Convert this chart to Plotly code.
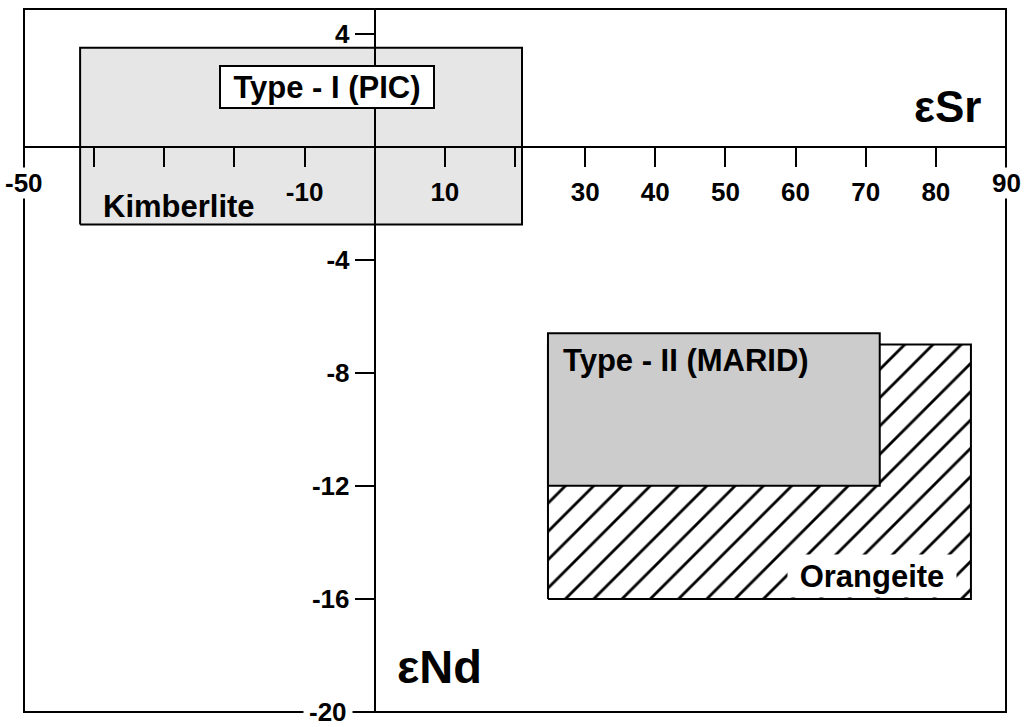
import plotly.graph_objects as go

# ---- data ----
x_range = [-50, 90]
y_range = [-20, 4.87]

x_tick_vals = [-40, -30, -20, -10, 10, 20, 30, 40, 50, 60, 70, 80]
x_tick_text = ["", "", "", "-10", "10", "", "30", "40", "50", "60", "70", "80"]
x_edge_vals = [-50, 90]
x_edge_text = ["-50", "90"]

y_tick_vals = [4, -4, -8, -12, -16, -20]
y_tick_text = ["4", "-4", "-8", "-12", "-16", ""]
y_edge_vals = [-20]
y_edge_text = ["-20"]

kimberlite_x = [-42, 21]
kimberlite_y = [-2.75, 3.5]
orangeite_x = [24.7, 85]
orangeite_y = [-16, -7]
marid_x = [24.7, 72]
marid_y = [-12, -6.6]

FONT = "Liberation Sans"


def rect(xs, ys):
    return ([xs[0], xs[1], xs[1], xs[0], xs[0]], [ys[0], ys[0], ys[1], ys[1], ys[0]])


fig = go.Figure()

kx, ky = rect(kimberlite_x, kimberlite_y)
fig.add_trace(go.Scatter(x=kx, y=ky, mode="lines", fill="toself",
                         fillcolor="#e6e6e6", line=dict(color="black", width=2),
                         hoverinfo="skip", showlegend=False))

ox, oy = rect(orangeite_x, orangeite_y)
fig.add_trace(go.Scatter(x=ox, y=oy, mode="lines", fill="toself",
                         fillcolor="white",
                         fillpattern=dict(shape="/", size=20, solidity=0.14,
                                          fgcolor="black", bgcolor="white",
                                          fgopacity=1, fillmode="replace"),
                         line=dict(color="black", width=2),
                         hoverinfo="skip", showlegend=False))

mx, my = rect(marid_x, marid_y)
fig.add_trace(go.Scatter(x=mx, y=my, mode="lines", fill="toself",
                         fillcolor="#cccccc", line=dict(color="black", width=2),
                         hoverinfo="skip", showlegend=False))

x_axis_pos = (0 - y_range[0]) / (y_range[1] - y_range[0])
y_axis_pos = (0 - x_range[0]) / (x_range[1] - x_range[0])

tickfont = dict(family=FONT, size=26, color="black", weight="bold")

fig.update_layout(
    width=1027, height=727,
    margin=dict(l=24, r=21, t=9, b=15),
    paper_bgcolor="white", plot_bgcolor="white",
    showlegend=False,
    xaxis=dict(range=x_range, anchor="free", position=x_axis_pos,
               showline=True, linecolor="black", linewidth=2,
               showgrid=False, zeroline=False,
               ticks="outside", ticklen=19, tickwidth=2, tickcolor="black",
               tickvals=x_tick_vals, ticktext=x_tick_text,
               tickfont=tickfont, ticklabelstandoff=3),
    yaxis=dict(range=y_range, anchor="free", position=y_axis_pos, side="left",
               showline=True, linecolor="black", linewidth=2,
               showgrid=False, zeroline=False,
               ticks="outside", ticklen=19, tickwidth=2, tickcolor="black",
               tickvals=y_tick_vals, ticktext=y_tick_text,
               tickfont=tickfont),
)

# frame
fig.add_shape(type="rect", xref="paper", yref="paper", x0=0, x1=1, y0=0, y1=1,
              line=dict(color="black", width=2), layer="below")

# edge tick labels with white backgrounds (interrupt the frame)
for v, t in zip(x_edge_vals, x_edge_text):
    fig.add_annotation(x=v, y=0, xref="x", yref="y", text=t, showarrow=False,
                       yanchor="middle", yshift=-36, bgcolor="white", borderpad=0,
                       font=tickfont)
for v, t in zip(y_edge_vals, y_edge_text):
    fig.add_annotation(x=0, y=v, xref="x", yref="y", text=t, showarrow=False,
                       xanchor="right", xshift=-22, yanchor="middle",
                       bgcolor="white", borderpad=5, font=tickfont)

lab_font = dict(family=FONT, size=31, color="black", weight="bold")

fig.add_annotation(x=-6.83, y=2.10, text="Type - I (PIC)", showarrow=False,
                   bgcolor="white", bordercolor="black", borderwidth=2, borderpad=0,
                   width=212, height=40, font=lab_font)
fig.add_annotation(x=-27.9, y=-2.13, text="Kimberlite", showarrow=False, font=lab_font)
fig.add_annotation(x=26.6, y=-7.57, text="Type - II (MARID)", showarrow=False,
                   xanchor="left", font=lab_font)
fig.add_annotation(x=70.96, y=-15.19, text="Orangeite", showarrow=False,
                   bgcolor="white", borderpad=0, width=168, height=42, font=lab_font)

fig.add_annotation(x=81.6, y=1.41, text="εSr", showarrow=False,
                   font=dict(family=FONT, size=44, color="black", weight="bold"))
fig.add_annotation(x=9.27, y=-18.38, text="εNd", showarrow=False,
                   font=dict(family=FONT, size=47, color="black", weight="bold"))

fig.write_html("out.html")
